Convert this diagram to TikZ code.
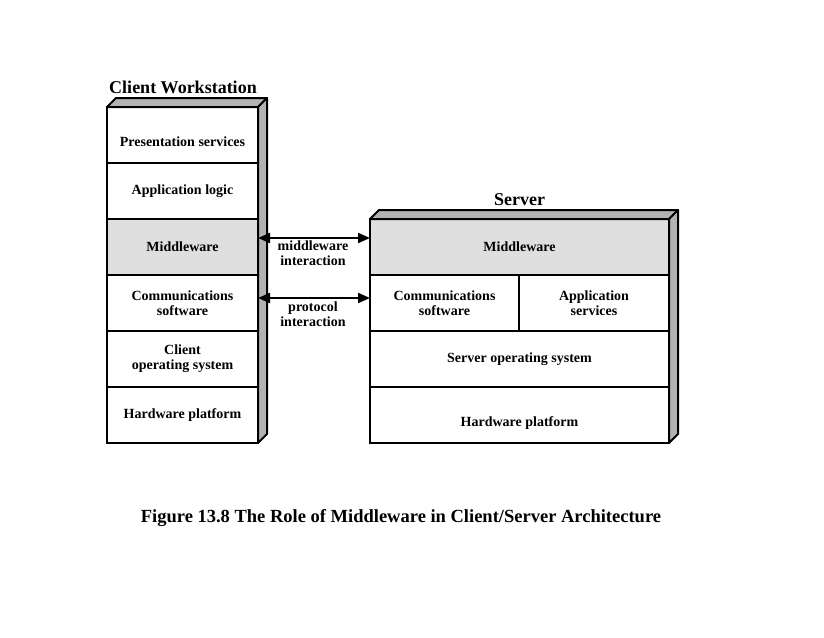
\documentclass[tikz,border=0pt]{standalone}
\usepackage{fontspec}
\setmainfont{Liberation Serif}
\usetikzlibrary{arrows.meta,positioning}
\newcommand\rowfont{\fontsize{14}{15}\selectfont\bfseries}
\newcommand\headfont{\fontsize{18}{20}\selectfont\bfseries}
\tikzset{
  layer/.style={draw, line width=2pt, minimum height=56pt, inner sep=0pt, outer sep=0pt, align=center, font=\rowfont},
  shaded/.style={fill=gray!25},
  face/.style={draw, line width=2pt, fill=gray!60, line join=round},
  link/.style={{Triangle[length=12pt,width=10pt]}-{Triangle[length=12pt,width=10pt]}, line width=2pt},
}
\begin{document}
\begin{tikzpicture}[x=1pt,y=-1pt]
  \useasboundingbox (0,0) rectangle (824,637);
  % client stack
  \node[layer, minimum width=151pt, label={[font=\rowfont,yshift=-7pt]center:Presentation services}] (cpres) at (182.5,135) {};
  \node[layer, minimum width=151pt, below=0pt of cpres] (capp) {Application logic};
  \node[layer, shaded, minimum width=151pt, below=0pt of capp] (cmid) {Middleware};
  \node[layer, minimum width=151pt, below=0pt of cmid] (ccomm) {Communications\\software};
  \node[layer, minimum width=151pt, below=0pt of ccomm] (cos) {Client\\operating system};
  \node[layer, minimum width=151pt, below=0pt of cos] (chw) {Hardware platform};
  \draw[face] (cpres.north west) -- ++(9,-9) -- ([xshift=9pt,yshift=9pt]cpres.north east) -- (cpres.north east) -- cycle; % top face
  \draw[face] (cpres.north east) -- ++(9,-9) -- ([xshift=9pt,yshift=9pt]chw.south east) -- (chw.south east) -- cycle; % side face
  \node[font=\headfont] (ctitle) at (183,87) {Client Workstation};
  % server stack
  \node[layer, shaded, minimum width=299pt] (smid) at (519.5,247) {Middleware};
  \node[layer, minimum width=149pt, below right=0pt of smid.south west] (scomm) {Communications\\software};
  \node[layer, minimum width=150pt, right=0pt of scomm] (sapp) {Application\\services};
  \node[layer, minimum width=299pt, below right=0pt of scomm.south west] (sos) {Server operating system};
  \node[layer, minimum width=299pt, below=0pt of sos, label={[font=\rowfont,yshift=-8pt]center:Hardware platform}] (shw) {};
  \draw[face] (smid.north west) -- ++(9,-9) -- ([xshift=9pt,yshift=9pt]smid.north east) -- (smid.north east) -- cycle; % top face
  \draw[face] (smid.north east) -- ++(9,-9) -- ([xshift=9pt,yshift=9pt]shw.south east) -- (shw.south east) -- cycle; % side face
  \node[font=\headfont] (stitle) at (519.5,200) {Server};
  % interactions
  \coordinate (mwleft) at ([yshift=9pt]cmid.east);
  \coordinate (prleft) at ([yshift=5pt]ccomm.east);
  \draw[link] (mwleft) -- (mwleft -| smid.west); % middleware interaction
  \draw[link] (prleft) -- (prleft -| scomm.west); % protocol interaction
  \node[font=\rowfont, align=center] (mwlabel) at (313,253) {middleware\\interaction};
  \node[font=\rowfont, align=center] (prlabel) at (313,314.5) {protocol\\interaction};
  % caption
  \node[font=\fontsize{18.5}{20}\selectfont\bfseries] (caption) at (401,518) {Figure 13.8 The Role of Middleware in Client/Server Architecture};
\end{tikzpicture}
\end{document}
